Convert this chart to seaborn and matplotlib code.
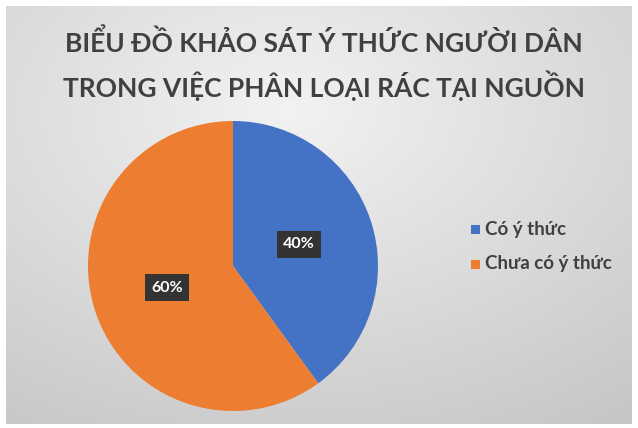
import numpy as np
import matplotlib
matplotlib.use("Agg")
import matplotlib.pyplot as plt
import seaborn as sns

categories = ["Có ý thức", "Chưa có ý thức"]
values = [40, 60]
colors = ["#4472C4", "#ED7D31"]
title = "BIỂU ĐỒ KHẢO SÁT Ý THỨC NGƯỜI DÂN\nTRONG VIỆC PHÂN LOẠI RÁC TẠI NGUỒN"

sns.set_theme(style="white")
plt.rcParams['font.family'] = ['Lato', 'DejaVu Sans']

W, H = 638, 428
fig = plt.figure(figsize=(W / 100, H / 100), dpi=100)
fig.patch.set_facecolor("white")

# background gradient
bg = fig.add_axes([6 / W, 4 / H, (W - 12) / W, (H - 10) / H])
yy, xx = np.mgrid[0:1:200j, 0:1:300j]
d = np.sqrt(((xx - 0.45) / 0.9) ** 2 + ((yy - 0.25) / 0.9) ** 2)
shade = 0.95 - 0.17 * np.clip(d, 0, 1)
bg.imshow(np.dstack([shade, shade, shade]), aspect="auto", extent=[0, 1, 0, 1], origin="upper")
bg.axis("off")

cx, cy, r = 233, 266, 145
ax = fig.add_axes([(cx - r) / W, 1 - (cy + r) / H, 2 * r / W, 2 * r / H])
ax.set_facecolor("none")
wedges, texts, autotexts = ax.pie(
    values, colors=colors, startangle=90, counterclock=False,
    autopct="%1.0f%%", pctdistance=0.48,
    wedgeprops=dict(linewidth=0),
    textprops=dict(color="white", fontsize=11.5, fontweight="bold"))
for t in autotexts:
    t.set_bbox(dict(boxstyle="square,pad=0.4", facecolor="#333333", edgecolor="none"))
ax.set_xlim(-1, 1)
ax.set_ylim(-1, 1)
ax.set_aspect("equal")
ax.axis("off")

fig.text(0.508, 1 - 65 / H, title, ha="center", va="center", fontsize=19,
         fontweight="bold", color="#404040", linespacing=1.55)

for i, (lab, col) in enumerate(zip(categories, colors)):
    y = 1 - (229 + 35 * i) / H
    fig.patches.append(plt.Rectangle((471 / W, y - 4.5 / H), 9 / W, 9 / H,
                                     transform=fig.transFigure, facecolor=col,
                                     edgecolor="none"))
    fig.text(485 / W, y, lab, ha="left", va="center", fontsize=13.5,
             fontweight="bold", color="#404040")

fig.savefig("out.png", dpi=100)
